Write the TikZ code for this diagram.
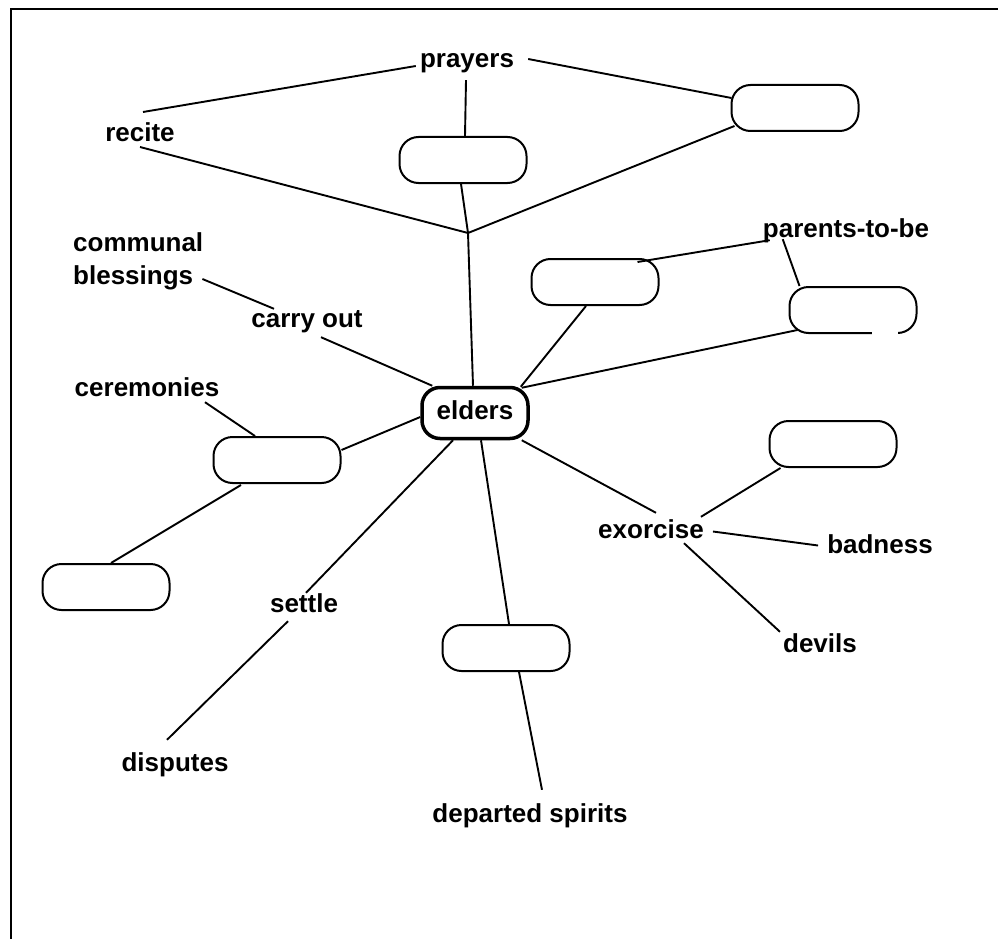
\documentclass[tikz,border=0pt]{standalone}
\usepackage{fontspec}
\setmainfont{Liberation Sans}
\begin{document}
\begin{tikzpicture}[x=1pt,y=-1pt,
  lbl/.style={font=\bfseries\fontsize{26}{33}\selectfont, inner sep=2pt, text height=19pt, text depth=6pt, anchor=base},
  blank/.style={draw, line width=2pt, rounded corners=19pt, minimum width=127pt, minimum height=46pt, inner sep=0pt},
  hub/.style={draw, line width=3.5pt, rounded corners=18pt, minimum width=106pt, minimum height=51pt, inner sep=0pt, font=\bfseries\fontsize{26}{33}\selectfont, text height=19pt, text depth=6pt},
  conn/.style={line width=1.9pt},
  frameline/.style={line width=2.6pt}]
\useasboundingbox (0,0) rectangle (998,939);
% frame
\coordinate (ftr) at (998,9);
\coordinate (ftl) at (11,9);
\coordinate (fbl) at (11,939);
\draw[frameline] (ftr) -- (ftl) -- (fbl);

% text labels
\node[lbl] (prayers) at (467,68) {prayers};
\node[lbl] (recite) at (140,142) {recite};
\node[font=\bfseries\fontsize{26}{33}\selectfont, inner sep=2pt, align=left, anchor=west] (cb) at (71,261) {communal\\blessings};
\node[lbl] (carry) at (307,327) {carry out};
\node[lbl] (cer) at (147,396) {ceremonies};
\node[lbl] (ptb) at (846,237) {parents-to-be};
\node[lbl] (ex) at (651,538) {exorcise};
\node[lbl] (bad) at (880,553) {badness};
\node[lbl] (devils) at (820,652) {devils};
\node[lbl] (settle) at (304,612) {settle};
\node[lbl] (disp) at (175,771) {disputes};
\node[lbl] (ds) at (530,822) {departed spirits};

% central node
\node[hub] (elders) at (475,413) {elders};

% blank boxes
\node[blank] (b1) at (795,108) {};
\node[blank] (b2) at (463,160) {};
\node[blank] (b3) at (595,282) {};
\node[blank] (b4) at (853,310) {};
\node[blank] (b5) at (277,460) {};
\node[blank] (b6) at (106,587) {};
\node[blank] (b7) at (506,648) {};
\node[blank] (b8) at (833,444) {};
% small break in the outline of b4
\coordinate (g1) at (872,333);
\coordinate (g2) at (898,333);
\draw[white, line width=3.5pt] (g1) -- (g2);

\coordinate (J) at (468,233);

% connectors
\draw[conn] ([shift={(3,-30)}]recite.base) -- ([shift={(-2,-2)}]prayers.base west);
\draw[conn] ([shift={(12,-9)}]prayers.base east) -- ([shift={(1,-10)}]b1.west);
\draw[conn] ([shift={(-1,4)}]prayers.south) -- ([xshift=2pt]b2.north);
\draw[conn] ([xshift=-2pt]b2.south) -- (J);
\draw[conn] ([shift={(0,5)}]recite.base) -- (J);
\draw[conn] (J) -- ([shift={(4,-6)}]b1.south west);
\draw[conn] (J) -- ([xshift=-2pt]elders.north);

\draw[conn] ([shift={(9,-5)}]ptb.south west) -- ([shift={(-22,4)}]b3.north east);
\draw[conn] ([shift={(22,-6)}]ptb.south west) -- ([xshift=11pt]b4.north west);
\draw[conn] ([xshift=-9pt]b3.south) -- ([shift={(-9,1)}]elders.north east);
\draw[conn] ([shift={(-8,2)}]elders.north east) -- ([shift={(9,-4)}]b4.south west);

\draw[conn] ([shift={(-3,18)}]cb.east) -- ([shift={(-33,3)}]carry.north);
\draw[conn] ([shift={(14,2)}]carry.south) -- ([xshift=12pt]elders.north west);

\draw[conn] ([shift={(58,-2)}]cer.south) -- ([xshift=-22pt]b5.north);
\draw[conn] ([shift={(0,-10)}]b5.east) -- ([shift={(0,4)}]elders.west);
\draw[conn] ([shift={(-36,1)}]b5.south) -- ([xshift=5pt]b6.north);

\draw[conn] ([xshift=-22pt]elders.south) -- ([shift={(2,2)}]settle.north);
\draw[conn] ([shift={(-16,1)}]settle.south) -- ([shift={(-8,-10)}]disp.north);

\draw[conn] ([xshift=6pt]elders.south) -- ([xshift=3pt]b7.north);
\draw[conn] ([xshift=13pt]b7.south) -- ([shift={(12,-11)}]ds.north);

\draw[conn] ([xshift=-8pt]elders.south east) -- ([shift={(5,-4)}]ex.north);
\draw[conn] ([xshift=12pt]b8.south west) -- ([xshift=-5pt]ex.north east);
\draw[conn] ([xshift=7pt]ex.east) -- ([shift={(-7,-1)}]bad.west);
\draw[conn] ([shift={(33,-3)}]ex.south) -- ([shift={(-1,1)}]devils.north west);
\end{tikzpicture}
\end{document}
